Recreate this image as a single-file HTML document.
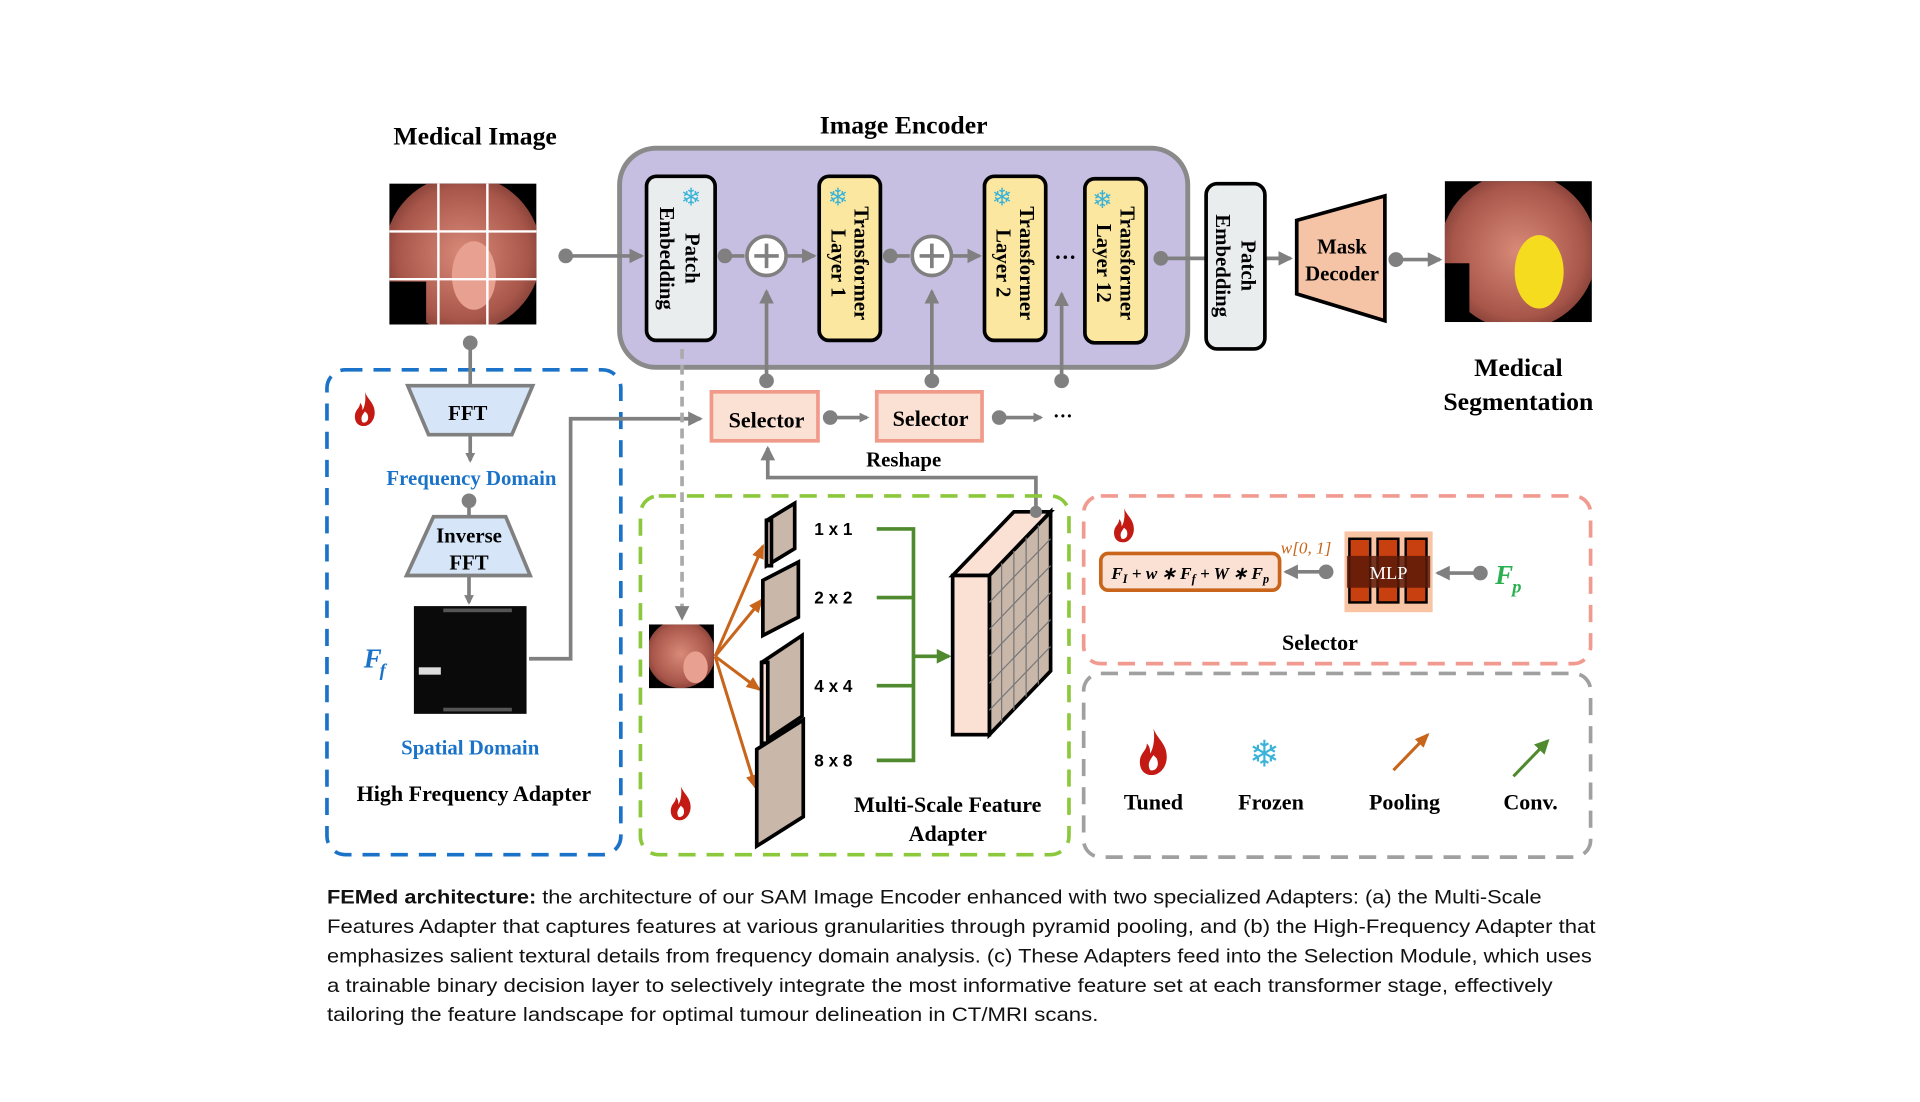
<!DOCTYPE html>
<html><head><meta charset="utf-8"><style>html,body{margin:0;padding:0;background:#fff}svg{display:block}</style></head>
<body>
<svg width="1920" height="1102" viewBox="0 0 1568 900" xmlns="http://www.w3.org/2000/svg">
<defs>
<marker id="ag" markerWidth="8" markerHeight="8" refX="6" refY="4" orient="auto" markerUnits="userSpaceOnUse"><path d="M0,0 L8,4 L0,8 z" fill="#808080"/></marker>
<marker id="ag2" markerWidth="12" markerHeight="12" refX="10" refY="6" orient="auto" markerUnits="userSpaceOnUse"><path d="M0,0 L12,6 L0,12 z" fill="#808080"/></marker>
<marker id="ao" markerWidth="12" markerHeight="10" refX="10" refY="5" orient="auto" markerUnits="userSpaceOnUse"><path d="M0,0 L12,5 L0,10 z" fill="#c8651b"/></marker>
<marker id="agr" markerWidth="12" markerHeight="12" refX="10" refY="6" orient="auto" markerUnits="userSpaceOnUse"><path d="M0,0 L12,6 L0,12 z" fill="#4f8a2e"/></marker>
<radialGradient id="tis" cx="0.5" cy="0.5" r="0.6"><stop offset="0" stop-color="#d98a78"/><stop offset="0.7" stop-color="#a8564a"/><stop offset="1" stop-color="#6a3028"/></radialGradient>
<clipPath id="c1"><rect x="318" y="150" width="120" height="115"/></clipPath>
<clipPath id="c2"><rect x="1180" y="148" width="120" height="115"/></clipPath>
<clipPath id="c3"><rect x="530" y="510" width="53" height="52"/></clipPath>
<symbol id="flame" viewBox="0 0 20 28"><path d="M10,0 C12,6 18,9 18,17 C18,23 14,28 9,28 C4,28 1,24 2,18 C3,14 6,13 6,9 C8,11 8,13 8,15 C10,12 11,6 10,0 z M10,16 C8,19 6,21 8,25 C11,26 14,23 12,18 z" fill="#c41a14" fill-rule="evenodd"/></symbol>
</defs>
<g font-family="Liberation Serif, serif" font-weight="bold">
<text x="388" y="118" font-size="21" text-anchor="middle">Medical Image</text>
<text x="738" y="109" font-size="21" text-anchor="middle">Image Encoder</text>
<text x="1240" y="307" font-size="21" text-anchor="middle">Medical</text>
<text x="1240" y="335" font-size="21" text-anchor="middle">Segmentation</text>
</g>
<rect x="318" y="150" width="120" height="115" fill="#000"/>
<g clip-path="url(#c1)">
<ellipse cx="378" cy="207" rx="64" ry="64" fill="url(#tis)"/>
<ellipse cx="387" cy="225" rx="18" ry="28" fill="#e8a090"/>
<rect x="318" y="230" width="30" height="35" fill="#000"/>
</g>
<g stroke="#fff" stroke-width="2"><line x1="358" y1="150" x2="358" y2="265"/><line x1="398" y1="150" x2="398" y2="265"/><line x1="318" y1="189" x2="438" y2="189"/><line x1="318" y1="228" x2="438" y2="228"/></g>
<rect x="506" y="121" width="464" height="179" rx="30" fill="#c6bfe2" stroke="#8a8a8a" stroke-width="4"/>
<line x1="462" y1="209" x2="524" y2="209" stroke="#808080" stroke-width="3" marker-end="url(#ag2)"/>
<circle cx="462" cy="209" r="6" fill="#808080"/>
<g stroke="#808080" stroke-width="3" fill="none">
<line x1="592" y1="209" x2="608" y2="209"/>
<line x1="643" y1="209" x2="665" y2="209" marker-end="url(#ag2)"/>
<line x1="727" y1="209" x2="743" y2="209"/>
<line x1="778" y1="209" x2="800" y2="209" marker-end="url(#ag2)"/>
<line x1="948" y1="211" x2="1054" y2="211" marker-end="url(#ag2)"/>
<line x1="1140" y1="212" x2="1176" y2="212" marker-end="url(#ag2)"/>
<line x1="626" y1="312" x2="626" y2="238" marker-end="url(#ag2)"/>
<line x1="761" y1="312" x2="761" y2="238" marker-end="url(#ag2)"/>
<line x1="867" y1="312" x2="867" y2="240" marker-end="url(#ag2)"/>
</g>
<rect x="528" y="144" width="56" height="134" rx="8" fill="#e9eded" stroke="#000" stroke-width="3"/>
<rect x="669" y="144" width="50" height="134" rx="8" fill="#fbe7a0" stroke="#000" stroke-width="3"/>
<rect x="804" y="144" width="50" height="134" rx="8" fill="#fbe7a0" stroke="#000" stroke-width="3"/>
<rect x="886" y="146" width="50" height="134" rx="8" fill="#fbe7a0" stroke="#000" stroke-width="3"/>
<rect x="985" y="150" width="48" height="135" rx="9" fill="#e9eded" stroke="#000" stroke-width="3"/>
<g font-family="Liberation Serif, serif" font-weight="bold" font-size="17">
<text transform="translate(560,211) rotate(90)" text-anchor="middle">Patch</text>
<text transform="translate(539,211) rotate(90)" text-anchor="middle">Embedding</text>
<text transform="translate(698,215) rotate(90)" text-anchor="middle">Transformer</text>
<text transform="translate(679,215) rotate(90)" text-anchor="middle">Layer 1</text>
<text transform="translate(833,215) rotate(90)" text-anchor="middle">Transformer</text>
<text transform="translate(814,215) rotate(90)" text-anchor="middle">Layer 2</text>
<text transform="translate(915,215) rotate(90)" text-anchor="middle">Transformer</text>
<text transform="translate(896,215) rotate(90)" text-anchor="middle">Layer 12</text>
<text transform="translate(1014,217) rotate(90)" text-anchor="middle">Patch</text>
<text transform="translate(993,217) rotate(90)" text-anchor="middle">Embedding</text>
</g>
<g fill="#3bb3d8" font-size="20" font-family="DejaVu Sans, sans-serif"><text x="556" y="168">❄</text><text x="676" y="168">❄</text><text x="810" y="168">❄</text><text x="892" y="170">❄</text></g>
<g fill="#808080"><circle cx="592" cy="209" r="6"/><circle cx="727" cy="209" r="6"/><circle cx="948" cy="211" r="6"/><circle cx="1140" cy="212" r="6"/><circle cx="626" cy="311" r="6"/><circle cx="761" cy="311" r="6"/><circle cx="867" cy="311" r="6"/></g>
<g><circle cx="626" cy="209" r="16" fill="#fff" stroke="#808080" stroke-width="3"/><path d="M616,209 h20 M626,199 v20" stroke="#808080" stroke-width="3"/>
<circle cx="761" cy="209" r="16" fill="#fff" stroke="#808080" stroke-width="3"/><path d="M751,209 h20 M761,199 v20" stroke="#808080" stroke-width="3"/></g>
<text x="870" y="216" font-size="18" font-weight="bold" text-anchor="middle">···</text>
<path d="M1059,180 L1131,160 L1131,262 L1059,240 z" fill="#f5c4a6" stroke="#000" stroke-width="3"/>
<text x="1096" y="207" font-family="Liberation Serif, serif" font-weight="bold" font-size="17" text-anchor="middle">Mask</text>
<text x="1096" y="229" font-family="Liberation Serif, serif" font-weight="bold" font-size="17" text-anchor="middle">Decoder</text>
<circle cx="1140" cy="212" r="6" fill="#808080"/>
<rect x="1180" y="148" width="120" height="115" fill="#000"/>
<g clip-path="url(#c2)">
<ellipse cx="1240" cy="205" rx="64" ry="64" fill="url(#tis)"/>
<rect x="1180" y="215" width="20" height="48" fill="#000"/>
<ellipse cx="1257" cy="222" rx="20" ry="30" fill="#f5dc1e"/>
</g>
<rect x="267" y="302" width="240" height="396" rx="15" fill="none" stroke="#1a73c8" stroke-width="3" stroke-dasharray="14 9"/>
<line x1="384" y1="280" x2="384" y2="315" stroke="#808080" stroke-width="3"/><circle cx="384" cy="280" r="6" fill="#808080"/>
<path d="M333,315 L435,315 L418,355 L350,355 z" fill="#d6e6f8" stroke="#808080" stroke-width="3"/>
<text x="382" y="343" font-family="Liberation Serif, serif" font-weight="bold" font-size="17" text-anchor="middle">FFT</text>
<line x1="384" y1="356" x2="384" y2="376" stroke="#808080" stroke-width="3" marker-end="url(#ag)"/>
<text x="385" y="396" font-family="Liberation Serif, serif" font-weight="bold" font-size="17" fill="#1a73c8" text-anchor="middle">Frequency Domain</text>
<line x1="383" y1="409" x2="383" y2="422" stroke="#808080" stroke-width="3"/><circle cx="383" cy="409" r="6" fill="#808080"/>
<path d="M354,422 L413,422 L433,470 L332,470 z" fill="#d6e6f8" stroke="#808080" stroke-width="3"/>
<text x="383" y="443" font-family="Liberation Serif, serif" font-weight="bold" font-size="17" text-anchor="middle">Inverse</text>
<text x="383" y="465" font-family="Liberation Serif, serif" font-weight="bold" font-size="17" text-anchor="middle">FFT</text>
<line x1="383" y1="471" x2="383" y2="492" stroke="#808080" stroke-width="3" marker-end="url(#ag)"/>
<rect x="338" y="495" width="92" height="88" fill="#0a0a0a"/>
<g fill="#555"><rect x="362" y="497" width="56" height="3"/><rect x="362" y="578" width="56" height="3"/></g>
<rect x="342" y="545" width="18" height="6" fill="#ddd"/>
<polyline points="432,538 466,538 466,342 572,342" fill="none" stroke="#808080" stroke-width="3" marker-end="url(#ag2)"/>
<text x="297" y="545" font-family="Liberation Serif, serif" font-weight="bold" font-style="italic" font-size="22" fill="#1a73c8">F</text>
<text x="310" y="552" font-family="Liberation Serif, serif" font-weight="bold" font-style="italic" font-size="15" fill="#1a73c8">f</text>
<text x="384" y="616" font-family="Liberation Serif, serif" font-weight="bold" font-size="17" fill="#1a73c8" text-anchor="middle">Spatial Domain</text>
<text x="387" y="654" font-family="Liberation Serif, serif" font-weight="bold" font-size="18" text-anchor="middle">High Frequency Adapter</text>
<use href="#flame" x="288" y="320" width="20" height="28"/>
<rect x="581" y="320" width="87" height="40" fill="#fbe0d4" stroke="#f09a8a" stroke-width="3"/>
<rect x="716" y="320" width="86" height="40" fill="#fbe0d4" stroke="#f09a8a" stroke-width="3"/>
<text x="626" y="349" font-family="Liberation Serif, serif" font-weight="bold" font-size="18" text-anchor="middle">Selector</text>
<text x="760" y="348" font-family="Liberation Serif, serif" font-weight="bold" font-size="18" text-anchor="middle">Selector</text>
<line x1="678" y1="341" x2="708" y2="341" stroke="#808080" stroke-width="3" marker-end="url(#ag)"/><circle cx="678" cy="341" r="6" fill="#808080"/>
<line x1="816" y1="341" x2="850" y2="341" stroke="#808080" stroke-width="3" marker-end="url(#ag)"/><circle cx="816" cy="341" r="6" fill="#808080"/>
<text x="868" y="345" font-size="16" font-weight="bold" text-anchor="middle">···</text>
<text x="738" y="381" font-family="Liberation Serif, serif" font-weight="bold" font-size="17" text-anchor="middle">Reshape</text>
<polyline points="846,420 846,390 627,390 627,366" fill="none" stroke="#808080" stroke-width="3" marker-end="url(#ag2)"/>
<line x1="557" y1="285" x2="557" y2="505" stroke="#aaa" stroke-width="3" stroke-dasharray="8 5" marker-end="url(#ag2)"/>
<rect x="523" y="405" width="350" height="293" rx="15" fill="none" stroke="#8cc83c" stroke-width="3" stroke-dasharray="14 9"/>
<rect x="530" y="510" width="53" height="52" fill="#000"/>
<g clip-path="url(#c3)"><ellipse cx="556" cy="534" rx="28" ry="28" fill="url(#tis)"/><ellipse cx="568" cy="545" rx="10" ry="13" fill="#e8a090"/></g>
<g stroke="#c8651b" stroke-width="2.5" marker-end="url(#ao)"><line x1="584" y1="536" x2="623" y2="446"/><line x1="584" y1="536" x2="622" y2="490"/><line x1="584" y1="536" x2="620" y2="563"/><line x1="584" y1="536" x2="617" y2="643"/></g>
<g stroke="#000" stroke-width="3" fill="#c9b7aa">
<path d="M626,425 L649,411 L649,448 L626,462 z"/><rect x="626" y="425" width="4" height="37" fill="#fbe0d4"/>
<path d="M623,474 L652,459 L652,504 L623,519 z"/>
<path d="M622,541 L655,519 L655,585 L622,607 z"/><rect x="622" y="541" width="5" height="66" fill="#fbe0d4"/>
<path d="M618,612 L656,588 L656,667 L618,691 z"/>
</g>
<g font-family="Liberation Sans, sans-serif" font-weight="bold" font-size="14"><text x="665" y="437">1 x 1</text><text x="665" y="493">2 x 2</text><text x="665" y="565">4 x 4</text><text x="665" y="626">8 x 8</text></g>
<g stroke="#4f8a2e" stroke-width="3" fill="none"><polyline points="716,432 746,432 746,621 716,621"/><line x1="716" y1="488" x2="746" y2="488"/><line x1="716" y1="560" x2="746" y2="560"/><line x1="746" y1="536" x2="775" y2="536" marker-end="url(#agr)"/></g>
<path d="M778,470 L828,418 L858,418 L808,470 z" fill="#fbe0d4" stroke="#000" stroke-width="3"/>
<path d="M808,470 L858,418 L858,548 L808,600 z" fill="#c9b7aa" stroke="#000" stroke-width="3"/>
<rect x="778" y="470" width="30" height="130" fill="#fbe0d4" stroke="#000" stroke-width="3"/>
<g stroke="#777" stroke-width="1"><line x1="818" y1="460" x2="818" y2="590"/><line x1="828" y1="450" x2="828" y2="580"/><line x1="838" y1="439" x2="838" y2="569"/><line x1="848" y1="429" x2="848" y2="559"/>
<line x1="808" y1="492" x2="858" y2="440"/><line x1="808" y1="514" x2="858" y2="462"/><line x1="808" y1="536" x2="858" y2="484"/><line x1="808" y1="558" x2="858" y2="506"/><line x1="808" y1="580" x2="858" y2="528"/></g>
<circle cx="846" cy="418" r="5" fill="#808080"/>
<text x="774" y="663" font-family="Liberation Serif, serif" font-weight="bold" font-size="18" text-anchor="middle">Multi-Scale Feature</text>
<text x="774" y="687" font-family="Liberation Serif, serif" font-weight="bold" font-size="18" text-anchor="middle">Adapter</text>
<use href="#flame" x="546" y="642" width="20" height="28"/>
<rect x="885" y="405" width="414" height="137" rx="14" fill="none" stroke="#f09a90" stroke-width="3" stroke-dasharray="14 9"/>
<use href="#flame" x="908" y="415" width="20" height="28"/>
<rect x="899" y="452" width="146" height="30" rx="6" fill="#fbe0d4" stroke="#c8651b" stroke-width="3"/>
<text x="972" y="473" font-family="Liberation Serif, serif" font-weight="bold" font-style="italic" font-size="14" text-anchor="middle">F<tspan font-size="10" dy="3">I</tspan><tspan dy="-3"> + w ∗ F</tspan><tspan font-size="10" dy="3">f</tspan><tspan dy="-3"> + W ∗ F</tspan><tspan font-size="10" dy="3">p</tspan></text>
<text x="1046" y="452" font-family="Liberation Serif, serif" font-style="italic" font-size="14" fill="#c8651b">w[0, 1]</text>
<line x1="1083" y1="467" x2="1050" y2="467" stroke="#808080" stroke-width="3" marker-end="url(#ag2)"/><circle cx="1083" cy="467" r="6" fill="#808080"/>
<rect x="1098" y="434" width="72" height="66" fill="#f8c4a4"/>
<g fill="#c84010" stroke="#000" stroke-width="2"><rect x="1102" y="440" width="17" height="52"/><rect x="1125" y="440" width="17" height="52"/><rect x="1148" y="440" width="17" height="52"/></g>
<rect x="1100" y="454" width="68" height="26" fill="#5a1a08" opacity="0.85"/>
<text x="1134" y="473" font-family="Liberation Serif, serif" font-size="15" fill="#fff" text-anchor="middle">MLP</text>
<line x1="1209" y1="468" x2="1174" y2="468" stroke="#808080" stroke-width="3" marker-end="url(#ag2)"/><circle cx="1209" cy="468" r="6" fill="#808080"/>
<text x="1221" y="477" font-family="Liberation Serif, serif" font-weight="bold" font-style="italic" font-size="22" fill="#2ab050">F</text>
<text x="1235" y="484" font-family="Liberation Serif, serif" font-weight="bold" font-style="italic" font-size="15" fill="#2ab050">p</text>
<text x="1078" y="531" font-family="Liberation Serif, serif" font-weight="bold" font-size="18" text-anchor="middle">Selector</text>
<rect x="885" y="550" width="414" height="150" rx="14" fill="none" stroke="#a0a0a0" stroke-width="3" stroke-dasharray="14 9"/>
<use href="#flame" x="928" y="595" width="28" height="38"/>
<text x="1020" y="626" font-size="30" fill="#3bb3d8" font-family="DejaVu Sans, sans-serif">❄</text>
<line x1="1138" y1="629" x2="1166" y2="600" stroke="#c8651b" stroke-width="2.5" marker-end="url(#ao)"/>
<line x1="1236" y1="634" x2="1264" y2="605" stroke="#4f8a2e" stroke-width="2.5" marker-end="url(#agr)"/>
<g font-family="Liberation Serif, serif" font-weight="bold" font-size="18" text-anchor="middle"><text x="942" y="661">Tuned</text><text x="1038" y="661">Frozen</text><text x="1147" y="661">Pooling</text><text x="1250" y="661">Conv.</text></g>
<g font-family="Liberation Sans, sans-serif" font-size="16" fill="#111">
<text x="267" y="738" textLength="992" lengthAdjust="spacingAndGlyphs"><tspan font-weight="bold">FEMed architecture:</tspan> the architecture of our SAM Image Encoder enhanced with two specialized Adapters: (a) the Multi-Scale</text>
<text x="267" y="762" textLength="1036" lengthAdjust="spacingAndGlyphs">Features Adapter that captures features at various granularities through pyramid pooling, and (b) the High-Frequency Adapter that</text>
<text x="267" y="786" textLength="1033" lengthAdjust="spacingAndGlyphs">emphasizes salient textural details from frequency domain analysis. (c) These Adapters feed into the Selection Module, which uses</text>
<text x="267" y="810" textLength="1001" lengthAdjust="spacingAndGlyphs">a trainable binary decision layer to selectively integrate the most informative feature set at each transformer stage, effectively</text>
<text x="267" y="834" textLength="630" lengthAdjust="spacingAndGlyphs">tailoring the feature landscape for optimal tumour delineation in CT/MRI scans.</text>
</g>
</svg>
</body></html>
